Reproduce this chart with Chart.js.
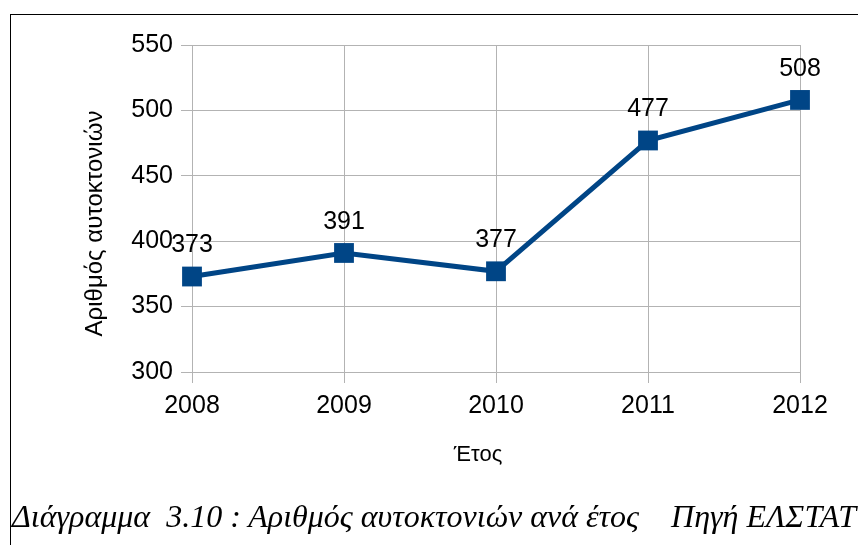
<!DOCTYPE html>
<html>
<head>
<meta charset="utf-8">
<script src="https://cdn.jsdelivr.net/npm/chart.js@4.4.0/dist/chart.umd.min.js"></script>
<style>
  body { margin: 0; background: #fff; }
  #wrap { position: relative; width: 858px; height: 545px; overflow: hidden; }
  #frame { position: absolute; left: 10px; top: 14px; width: 860px; height: 560px;
           border-top: 1px solid #000; border-left: 1px solid #000; }
  #chart { position: absolute; left: 0; top: 0; }
  #caption { position: absolute; left: 12px; top: 498px; white-space: pre; line-height: 36px;
             font: italic 32px "Liberation Serif", "DejaVu Serif", serif; color: #000; }
</style>
</head>
<body>
<div id="wrap">
  <div id="frame"></div>
  <canvas id="chart" width="858" height="545"></canvas>
  <div id="caption">Διάγραμμα  3.10 : Αριθμός αυτοκτονιών ανά έτος    Πηγή ΕΛΣΤΑΤ</div>
</div>
<script>
// data
const years = ['2008', '2009', '2010', '2011', '2012'];
const suicides = [373, 391, 377, 477, 508];
const yTicks = [300, 350, 400, 450, 500, 550];

const xTitle = 'Έτος';
const yTitle = 'Αριθμός αυτοκτονιών';

const blue = '#004586';
const gridGray = '#b3b3b3';

// value labels over the points + axis titles
const labelsPlugin = {
    id: 'labels',
    afterDatasetsDraw: function (chart) {
        const ctx = chart.ctx;
        const meta = chart.getDatasetMeta(0);
        ctx.save();
        ctx.fillStyle = '#000';
        ctx.font = '25px "Liberation Sans", Arial, sans-serif';
        ctx.textAlign = 'center';
        ctx.textBaseline = 'middle';
        meta.data.forEach(function (pt, i) {
            ctx.fillText(String(suicides[i]), pt.x, pt.y - 31);
        });

        const area = chart.chartArea;
        ctx.font = '22px "Liberation Sans", Arial, sans-serif';
        ctx.fillText(xTitle, (area.left + area.right) / 2 - 18, area.bottom + 83);

        ctx.font = '24px "Liberation Sans", Arial, sans-serif';
        ctx.translate(area.left - 97, (area.top + area.bottom) / 2 + 15);
        ctx.rotate(-Math.PI / 2);
        ctx.fillText(yTitle, 0, 0);
        ctx.restore();
    }
};

new Chart(document.getElementById('chart'), {
    type: 'line',
    data: {
        labels: years,
        datasets: [{
            data: suicides,
            borderColor: blue,
            backgroundColor: blue,
            borderWidth: 5,
            tension: 0,
            fill: false,
            pointStyle: 'rect',
            pointRadius: 14,
            pointHoverRadius: 14,
            pointBorderWidth: 0,
            pointBackgroundColor: blue
        }]
    },
    options: {
        responsive: false,
        animation: false,
        events: [],
        layout: { padding: { left: 100, right: 58, top: 45, bottom: 113 } },
        plugins: {
            legend: { display: false },
            tooltip: { enabled: false }
        },
        scales: {
            x: {
                offset: false,
                grid: { color: gridGray, lineWidth: 1, tickLength: 11, drawTicks: true },
                border: { color: gridGray },
                ticks: {
                    color: '#000',
                    padding: 8,
                    maxRotation: 0,
                    font: { family: '"Liberation Sans", Arial, sans-serif', size: 25 }
                },
                afterFit: function (scale) { scale.height = 60; }
            },
            y: {
                min: 300,
                max: 550,
                afterBuildTicks: function (scale) {
                    scale.ticks = yTicks.map(function (v) { return { value: v }; });
                },
                grid: { color: gridGray, lineWidth: 1, tickLength: 11, drawTicks: true },
                border: { color: gridGray },
                ticks: {
                    color: '#000',
                    padding: 8,
                    font: { family: '"Liberation Sans", Arial, sans-serif', size: 25 }
                },
                afterFit: function (scale) { scale.width = 92; }
            }
        }
    },
    plugins: [labelsPlugin]
});
</script>
</body>
</html>
